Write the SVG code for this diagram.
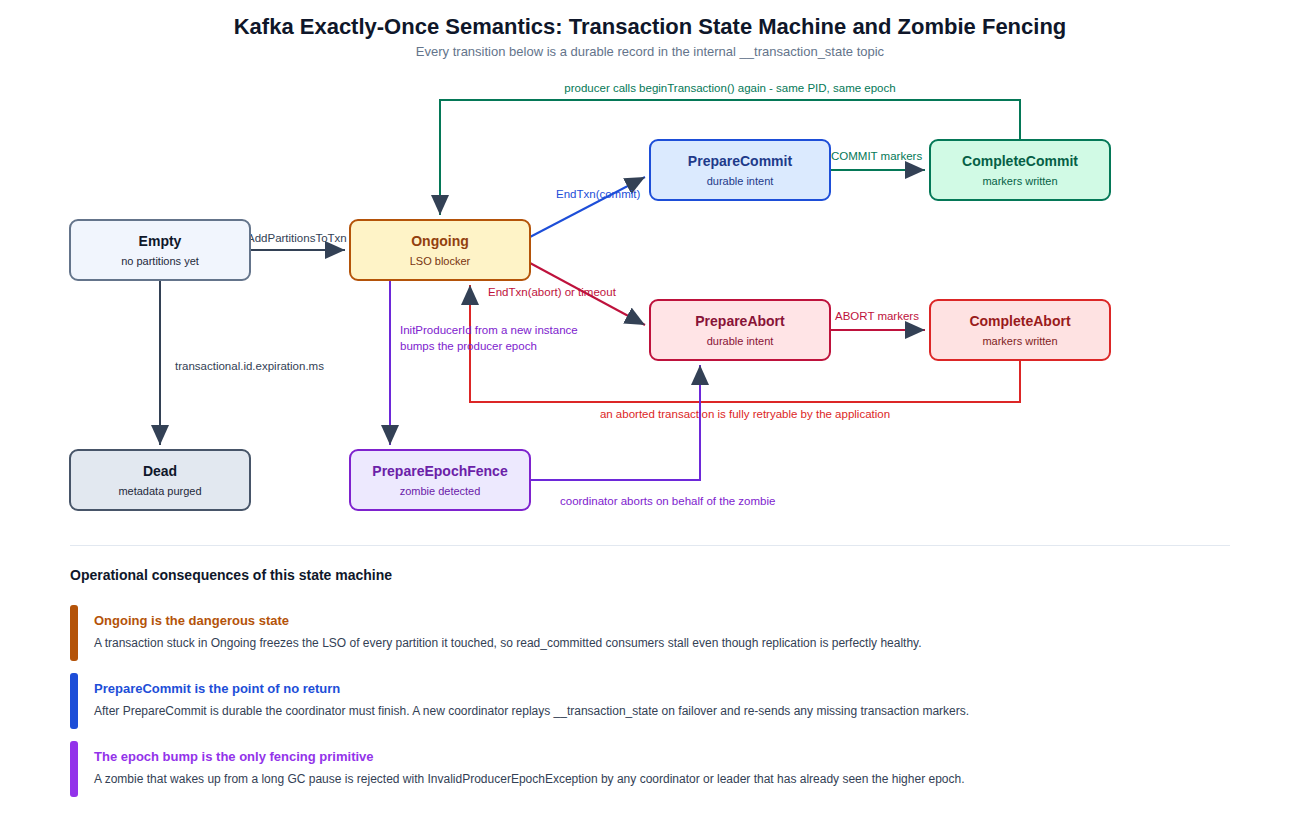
<svg xmlns="http://www.w3.org/2000/svg" width="1300" height="823" viewBox="0 0 1300 823">
<style>
text{font-family:"Liberation Sans",Arial,sans-serif}
.t{font-size:14px;font-weight:bold;text-anchor:middle}
.s{font-size:11px;text-anchor:middle}
.l{font-size:11.5px}
.e{fill:none;stroke-width:2}
.h{font-size:13px;font-weight:bold}
.d{font-size:12px;fill:#334155}
</style>
<defs>
<marker id="a" markerUnits="userSpaceOnUse" markerWidth="20" markerHeight="18" refX="20" refY="9" orient="auto"><path d="M0,0 L20,9 L0,18 z" fill="#334155"/></marker>
</defs>
<rect width="1300" height="823" fill="#fff"/>
<text x="650" y="34" text-anchor="middle" font-size="22" font-weight="bold" fill="#0f172a">Kafka Exactly-Once Semantics: Transaction State Machine and Zombie Fencing</text>
<text x="650" y="56" text-anchor="middle" font-size="13" fill="#64748b">Every transition below is a durable record in the internal __transaction_state topic</text>
<g id="connectors">
<path class="e" stroke="#334155" d="M250,250 H345" marker-end="url(#a)"/>
<text class="l" x="247" y="242" fill="#334155">AddPartitionsToTxn</text>
<path class="e" stroke="#1d4ed8" d="M530,237 L645,177" marker-end="url(#a)"/>
<text class="l" x="556" y="198" fill="#1d4ed8">EndTxn(commit)</text>
<path class="e" stroke="#be123c" d="M530,263 L645,325" marker-end="url(#a)"/>
<text class="l" x="488" y="296" fill="#be123c">EndTxn(abort) or timeout</text>
<path class="e" stroke="#047857" d="M830,170 H925" marker-end="url(#a)"/>
<text class="l" x="831" y="160" fill="#047857">COMMIT markers</text>
<path class="e" stroke="#be123c" d="M830,330 H925" marker-end="url(#a)"/>
<text class="l" x="835" y="320" fill="#be123c">ABORT markers</text>
<path class="e" stroke="#047857" d="M1020,140 V100 H440 V215" marker-end="url(#a)"/>
<text class="l" x="730" y="92" text-anchor="middle" fill="#047857">producer calls beginTransaction() again - same PID, same epoch</text>
<path class="e" stroke="#dc2626" d="M1020,360 V402 H470 V285" marker-end="url(#a)"/>
<text class="l" x="745" y="418" text-anchor="middle" fill="#dc2626">an aborted transaction is fully retryable by the application</text>
<path class="e" stroke="#334155" d="M160,280 V445" marker-end="url(#a)"/>
<text class="l" x="175" y="370" fill="#334155">transactional.id.expiration.ms</text>
<path class="e" stroke="#6d28d9" d="M390,280 V445" marker-end="url(#a)"/>
<text class="l" x="400" y="334" fill="#7e22ce">InitProducerId from a new instance</text>
<text class="l" x="400" y="350" fill="#7e22ce">bumps the producer epoch</text>
<path class="e" stroke="#6d28d9" d="M530,480 H700 V365" marker-end="url(#a)"/>
<text class="l" x="560" y="505" fill="#7e22ce">coordinator aborts on behalf of the zombie</text>
</g>
<g id="Empty"><rect x="70" y="220" width="180" height="60" rx="8" fill="#f1f5fd" stroke="#64748b" stroke-width="2"/><text class="t" x="160" y="246" fill="#0f172a">Empty</text><text class="s" x="160" y="265" fill="#1e293b">no partitions yet</text></g>
<g id="Ongoing"><rect x="350" y="220" width="180" height="60" rx="8" fill="#fef3c7" stroke="#b45309" stroke-width="2"/><text class="t" x="440" y="246" fill="#92400e">Ongoing</text><text class="s" x="440" y="265" fill="#78350f">LSO blocker</text></g>
<g id="PrepareCommit"><rect x="650" y="140" width="180" height="60" rx="8" fill="#dbeafe" stroke="#1d4ed8" stroke-width="2"/><text class="t" x="740" y="166" fill="#1e3a8a">PrepareCommit</text><text class="s" x="740" y="185" fill="#1e3a8a">durable intent</text></g>
<g id="CompleteCommit"><rect x="930" y="140" width="180" height="60" rx="8" fill="#d1fae5" stroke="#047857" stroke-width="2"/><text class="t" x="1020" y="166" fill="#065f46">CompleteCommit</text><text class="s" x="1020" y="185" fill="#065f46">markers written</text></g>
<g id="PrepareAbort"><rect x="650" y="300" width="180" height="60" rx="8" fill="#ffe4e6" stroke="#be123c" stroke-width="2"/><text class="t" x="740" y="326" fill="#881337">PrepareAbort</text><text class="s" x="740" y="345" fill="#881337">durable intent</text></g>
<g id="CompleteAbort"><rect x="930" y="300" width="180" height="60" rx="8" fill="#fee2e2" stroke="#dc2626" stroke-width="2"/><text class="t" x="1020" y="326" fill="#991b1b">CompleteAbort</text><text class="s" x="1020" y="345" fill="#7f1d1d">markers written</text></g>
<g id="Dead"><rect x="70" y="450" width="180" height="60" rx="8" fill="#e2e8f0" stroke="#475569" stroke-width="2"/><text class="t" x="160" y="476" fill="#0f172a">Dead</text><text class="s" x="160" y="495" fill="#1e293b">metadata purged</text></g>
<g id="PrepareEpochFence"><rect x="350" y="450" width="180" height="60" rx="8" fill="#ede9fe" stroke="#7e22ce" stroke-width="2"/><text class="t" x="440" y="476" fill="#6b21a8">PrepareEpochFence</text><text class="s" x="440" y="495" fill="#6b21a8">zombie detected</text></g>
<line x1="70" y1="545.5" x2="1230" y2="545.5" stroke="#e2e8f0"/>
<text x="70" y="580" font-size="14" font-weight="bold" fill="#0f172a">Operational consequences of this state machine</text>
<g id="notes">
<rect x="70" y="605" width="8" height="56" rx="3" fill="#b45309"/>
<text class="h" x="94" y="625" fill="#b45309">Ongoing is the dangerous state</text>
<text class="d" x="94" y="647">A transaction stuck in Ongoing freezes the LSO of every partition it touched, so read_committed consumers stall even though replication is perfectly healthy.</text>
<rect x="70" y="673" width="8" height="56" rx="3" fill="#1d4ed8"/>
<text class="h" x="94" y="693" fill="#1d4ed8">PrepareCommit is the point of no return</text>
<text class="d" x="94" y="715">After PrepareCommit is durable the coordinator must finish. A new coordinator replays __transaction_state on failover and re-sends any missing transaction markers.</text>
<rect x="70" y="741" width="8" height="56" rx="3" fill="#9333ea"/>
<text class="h" x="94" y="761" fill="#9333ea">The epoch bump is the only fencing primitive</text>
<text class="d" x="94" y="783">A zombie that wakes up from a long GC pause is rejected with InvalidProducerEpochException by any coordinator or leader that has already seen the higher epoch.</text>
</g>
</svg>
